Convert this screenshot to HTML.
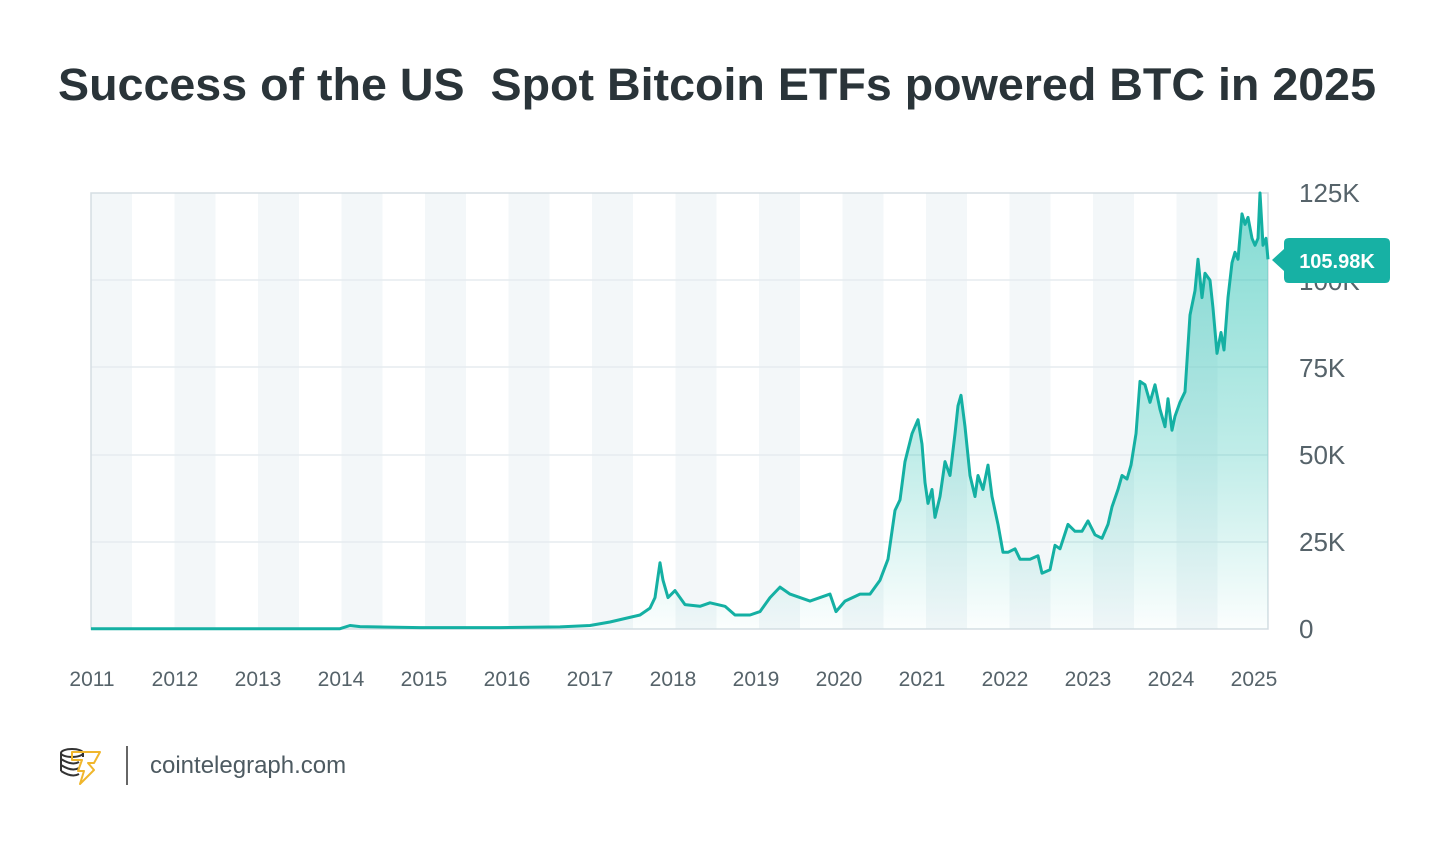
<!DOCTYPE html>
<html><head><meta charset="utf-8"><style>
html,body{margin:0;padding:0;background:#fff;}
svg{display:block;font-family:"Liberation Sans",sans-serif;}
</style></head><body>
<svg id="s" width="1450" height="846" viewBox="0 0 1450 846" xmlns="http://www.w3.org/2000/svg">
<defs>
<linearGradient id="g" x1="0" y1="0" x2="0" y2="1">
<stop offset="0" stop-color="#2dc2b4" stop-opacity="0.6"/>
<stop offset="0.6" stop-color="#2dc2b4" stop-opacity="0.3"/>
<stop offset="1" stop-color="#2dc2b4" stop-opacity="0.02"/>
</linearGradient>
</defs>
<text x="58" y="100" font-size="45" font-weight="bold" fill="#2a3439" textLength="1318" lengthAdjust="spacingAndGlyphs" xml:space="preserve">Success of the US  Spot Bitcoin ETFs powered BTC in 2025</text>
<g id="bands"></g>
<g stroke="#e6ecef" stroke-width="1.5">
<line x1="91" y1="280" x2="1268" y2="280"/>
<line x1="91" y1="367" x2="1268" y2="367"/>
<line x1="91" y1="455" x2="1268" y2="455"/>
<line x1="91" y1="542" x2="1268" y2="542"/>
</g>
<rect x="91" y="193" width="1177" height="436" fill="none" stroke="#d5dee3" stroke-width="1.5"/>
<path id="area" fill="url(#g)"/>
<path id="line" fill="none" stroke="#14b0a3" stroke-width="3" stroke-linejoin="round"/>
<g font-size="26" fill="#56636a">
<text x="1299" y="202">125K</text>
<text x="1299" y="290">100K</text>
<text x="1299" y="377">75K</text>
<text x="1299" y="464">50K</text>
<text x="1299" y="551">25K</text>
<text x="1299" y="638">0</text>
</g>
<g id="years" font-size="21" fill="#56636a" text-anchor="middle"></g>
<path d="M1272 260 L1284 249 L1284 243 Q1284 238 1289 238 L1385 238 Q1390 238 1390 243 L1390 278 Q1390 283 1385 283 L1289 283 Q1284 283 1284 278 L1284 271 Z" fill="#17b1a4"/>
<text x="1337" y="268" font-size="20" font-weight="bold" fill="#fff" text-anchor="middle">105.98K</text>
<g fill="none" stroke="#333" stroke-width="2">
<ellipse cx="72" cy="753" rx="11" ry="4"/>
<path d="M61 753 v18 M83 753 v4 M61 759 q11 7 18 3 M61 765 q11 7 18 3 M61 771 q11 7 18 3"/>
</g>
<path d="M72 752 L100 752 L94 763 L88 763 L94 770 L80 784 L84 771 L78 771 L82 760 L72 760 Z" fill="none" stroke="#f0b62c" stroke-width="2" stroke-linejoin="round"/>
<line x1="127" y1="746" x2="127" y2="785" stroke="#666" stroke-width="2"/>
<text x="150" y="773" font-size="24" fill="#4d5a61">cointelegraph.com</text>
</svg>
<script>
var ns="http://www.w3.org/2000/svg";
var b=document.getElementById("bands");
for(var k=0;k<14;k++){var x=91+k*83.5;var r=document.createElementNS(ns,"rect");r.setAttribute("x",x);r.setAttribute("y",193);r.setAttribute("width",41);r.setAttribute("height",436);r.setAttribute("fill","#f3f7f9");b.appendChild(r);}
var yg=document.getElementById("years");
for(var i=0;i<15;i++){var t=document.createElementNS(ns,"text");t.setAttribute("x",92+i*83);t.setAttribute("y",686);t.textContent=2011+i;yg.appendChild(t);}
var d=[[91,0.1],[340,0.1],[350,1.0],[360,0.7],[420,0.4],[500,0.4],[560,0.6],[590,1],[610,2],[625,3],[640,4],[650,6],[655,9],[660,19],[663,14],[668,9],[675,11],[685,7],[700,6.5],[710,7.5],[725,6.5],[735,4],[750,4],[760,5],[770,9],[780,12],[790,10],[800,9],[810,8],[820,9],[830,10],[836,5],[845,8],[860,10],[870,10],[880,14],[888,20],[895,34],[900,37],[905,48],[912,56],[918,60],[922,53],[925,42],[928,36],[932,40],[935,32],[940,38],[945,48],[950,44],[955,56],[958,64],[961,67],[965,58],[970,44],[975,38],[978,44],[983,40],[988,47],[992,38],[998,30],[1003,22],[1008,22],[1015,23],[1020,20],[1030,20],[1038,21],[1042,16],[1050,17],[1055,24],[1060,23],[1068,30],[1075,28],[1082,28],[1088,31],[1095,27],[1102,26],[1108,30],[1112,35],[1118,40],[1122,44],[1127,43],[1131,47],[1136,56],[1140,71],[1145,70],[1150,65],[1155,70],[1160,63],[1165,58],[1168,66],[1172,57],[1175,61],[1180,65],[1185,68],[1190,90],[1195,97],[1198,106],[1202,95],[1205,102],[1210,100],[1213,92],[1217,79],[1221,85],[1224,80],[1228,95],[1232,105],[1235,108],[1238,106],[1242,119],[1245,116],[1248,118],[1252,112],[1255,110],[1258,112],[1260,125],[1263,110],[1266,112],[1268,106]];
var p="";for(var j=0;j<d.length;j++){p+=(j?"L":"M")+d[j][0]+" "+(629-d[j][1]*3.488).toFixed(1);}
document.getElementById("line").setAttribute("d",p);
document.getElementById("area").setAttribute("d",p+"L1268 629L91 629Z");
</script>
</body></html>
